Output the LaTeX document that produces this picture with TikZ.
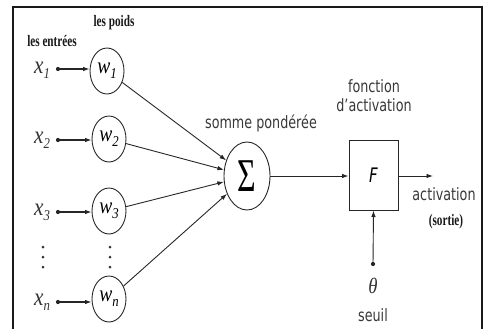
\documentclass[tikz,border=0pt]{standalone}
\usepackage{fontspec}
\setmainfont{Liberation Serif}
\newfontfamily\labelsans[FakeStretch=0.75]{DejaVu Sans}
\newfontfamily\headserif[FakeStretch=0.7]{Liberation Serif}
\newfontfamily\varserif[FakeStretch=0.85]{Liberation Serif}
\usetikzlibrary{shapes.geometric,arrows.meta}
% lowered index for the variable names
\newcommand\idx[1]{\raisebox{-0.45ex}{\fontsize{15}{15}\selectfont #1}}

\begin{document}
\begin{tikzpicture}[x=1pt,y=-1pt,
  ink/.style={draw=black!85},
  weight/.style={ink, line width=0.9pt, ellipse, minimum width=34pt,
    minimum height=46pt, inner sep=0pt,
    font=\varserif\fontsize{23}{23}\selectfont\itshape},
  inputvar/.style={inner sep=0pt, text=black!80,
    font=\varserif\fontsize{25}{25}\selectfont\itshape},
  headlabel/.style={inner sep=0pt, text=black!90,
    font=\headserif\fontsize{16}{16}\selectfont\bfseries},
  sanslabel/.style={inner sep=0pt, text=black!78,
    font=\labelsans\fontsize{17}{17}\selectfont},
  tip/.tip={Latex[length=6.5pt,width=4.5pt]},
  wire/.style={ink, line width=0.9pt, -tip},
  inwire/.style={ink, line width=1.1pt, -tip},
  dotmark/.style={fill=black!80, circle, inner sep=0pt, minimum size=3pt},
  enddot/.style={fill=black!85, circle, inner sep=0pt, minimum size=4.2pt}
]
\useasboundingbox (0,0) rectangle (484,329);

% open frame (no bottom edge)
\draw[line width=1.6pt, black!90] (13,329) -- (13,7) -- (482,7) -- (482,329);

% column headings
\node[headlabel] (hin) at (52,41) {les entrées};
\node[headlabel] (hw)  at (114,23) {les poids};

% inputs x_i and weights w_i
\node[inputvar] (x1) at (42,70)  {x\idx{1}};
\node[inputvar] (x2) at (42,140) {x\idx{2}};
\node[inputvar] (x3) at (42,212) {x\idx{3}};
\node[inputvar] (xn) at (42,302) {x\idx{n}};

\node[weight] (w1) at (107,71)  {w\idx{1}};
\node[weight] (w2) at (109,139) {w\idx{2}};
\node[weight] (w3) at (109,211) {w\idx{3}};
\node[weight] (wn) at (109,299) {w\idx{n}};

% input terminals and their arrows into the weights
\node[enddot] (d1) at (58,69)  {};
\node[enddot] (d2) at (58,140) {};
\node[enddot] (d3) at (58,212) {};
\node[enddot] (dn) at (58,302) {};

\draw[inwire] (d1.center) -- (w1.west |- d1);
\draw[inwire] (d2.center) -- (w2.west |- d2);
\draw[inwire] (d3.center) -- (w3.west |- d3);
\draw[inwire] (dn.center) -- (wn.west |- dn);

% vertical ellipsis dots
\foreach \yy in {247,257,267} {
  \node[dotmark] at (43,\yy) {};
  \node[dotmark] at (110,\yy) {};
}

% weighted sum
\node[ink, line width=0.9pt, ellipse, minimum width=46pt, minimum height=68pt,
  inner sep=0pt] (sum) at (247,176)
  {\scalebox{0.68}[1]{\fontsize{47}{47}\selectfont Σ}};
\node[sanslabel] (sumlbl) at (261,123) {somme pondérée};

\draw[wire] (w1) -- (sum);
\draw[wire] (w2) -- (sum);
\draw[wire] (w3) -- (sum);
\draw[wire] (wn) -- (sum);

% activation function
\node[ink, line width=1pt, rectangle, minimum width=49pt, minimum height=70pt,
  inner sep=0pt, font=\labelsans\fontsize{20}{20}\selectfont\itshape]
  (F) at (373.5,175) {F};
\node[sanslabel] (flbl1) at (374,86)  {fonction};
\node[sanslabel] (flbl2) at (374,105) {d’activation};

\draw[wire] (sum.east) -- (F.west |- sum.east);

\coordinate (out) at (433,176);
\draw[wire] (F.east |- out) -- (out);
\node[sanslabel] (act) at (444,194) {activation};
\node[headlabel] (sortie) at (446,222) {(sortie)};

% threshold
\node[enddot] (th) at (373,264) {};
\draw[wire] (th.center) -- (F.south);
\node[inner sep=0pt, text=black!80, font=\varserif\fontsize{22}{22}\selectfont\itshape]
  (theta) at (373,286) {θ};
\node[sanslabel] (seuil) at (373,315) {seuil};
\end{tikzpicture}
\end{document}
